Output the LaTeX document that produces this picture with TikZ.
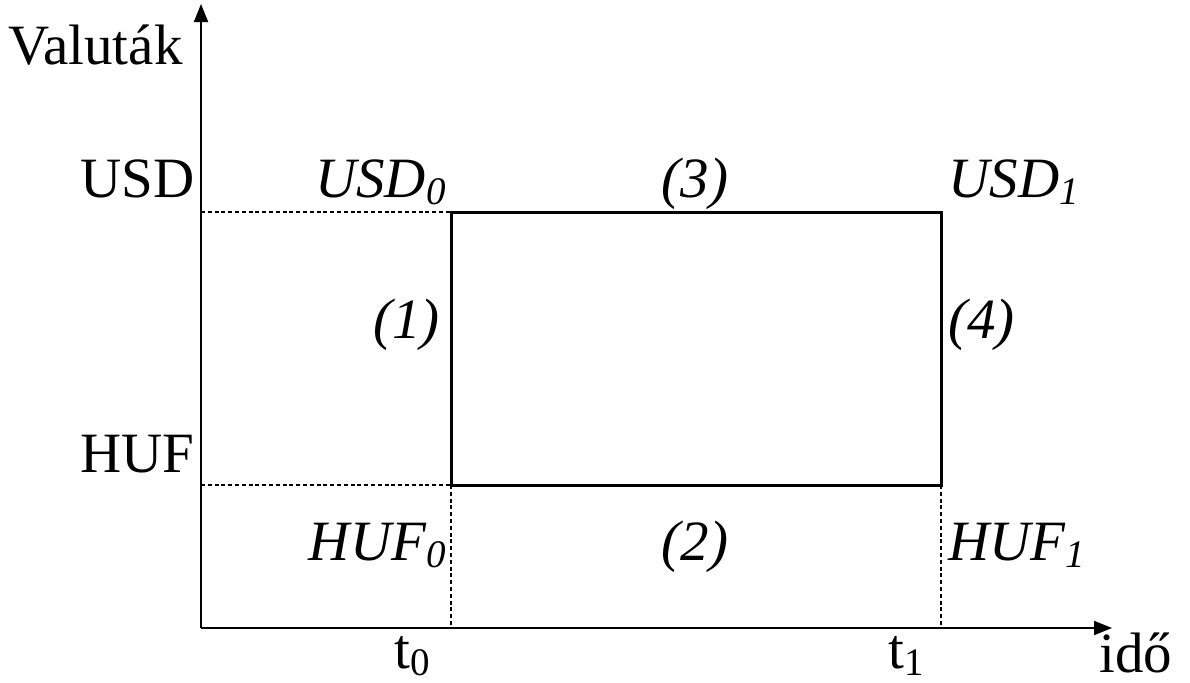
\documentclass[tikz,border=0pt]{standalone}
\usepackage{fontspec}
\setmainfont{Liberation Serif}
\usetikzlibrary{arrows.meta}
\newcommand{\lowsub}[1]{\raisebox{-3.5pt}{\fontsize{19.5}{22}\selectfont #1}}

\begin{document}
\begin{tikzpicture}[x=0.5pt, y=-0.5pt,
        lbl/.style={font=\fontsize{28.5}{33}\selectfont, inner sep=0pt},
        ilbl/.style={lbl, font=\fontsize{28.5}{33}\selectfont\itshape},
        axis/.style={-{Triangle[length=9pt, width=7pt]}, line width=1pt},
        box/.style={line width=1.5pt},
        guide/.style={line width=1pt, dash pattern=on 2pt off 1.4pt}
      ]
        \useasboundingbox (0,0) rectangle (1190,682);

        % axes
        \coordinate (o) at (201,628);
        \coordinate (ytop) at (201,4);
        \coordinate (xend) at (1112,628);
        \draw[axis] (o) -- (ytop);
        \draw[axis] (o) -- (xend);

        % rectangle corners
        \coordinate (a) at (451,485);
        \coordinate (b) at (941,485);
        \coordinate (c) at (941,212);
        \coordinate (d) at (451,212);
        \coordinate (usdax) at (201,212);
        \coordinate (hufax) at (201,485);
        \coordinate (t0ax) at (451,628);
        \coordinate (t1ax) at (941,628);

        \draw[guide] (usdax) -- (d);
        \draw[guide] (hufax) -- (a);
        \draw[guide] (a) -- (t0ax);
        \draw[guide] (b) -- (t1ax);
        \draw[box] (a) -- (b) -- (c) -- (d) -- cycle;

        % axis labels
        \node[lbl, anchor=base west] (val) at (8,64) {Valuták};
        \node[lbl, anchor=base west] (usd) at (80,197) {USD};
        \node[lbl, anchor=base west] (huf) at (80,472) {HUF};
        \node[lbl, anchor=base west] (t0) at (394,668) {t\lowsub{0}};
        \node[lbl, anchor=base west] (t1) at (888,668) {t\lowsub{1}};
        \node[lbl, anchor=base west] (ido) at (1099,672) {idő};

        % corner labels
        \node[ilbl, anchor=base east] (usd0) at (446,197) {USD\lowsub{0}};
        \node[ilbl, anchor=base west] (usd1) at (948,197) {USD\lowsub{1}};
        \node[ilbl, anchor=base east] (huf0) at (446,560) {HUF\lowsub{0}};
        \node[ilbl, anchor=base west] (huf1) at (948,560) {HUF\lowsub{1}};

        % step labels
        \node[ilbl, anchor=base] (s3) at (695,197) {(3)};
        \node[ilbl, anchor=base] (s2) at (695,560) {(2)};
        \node[ilbl, anchor=base east] (s1) at (440,338) {(1)};
        \node[ilbl, anchor=base west] (s4) at (948,338) {(4)};
      \end{tikzpicture}
\end{document}
